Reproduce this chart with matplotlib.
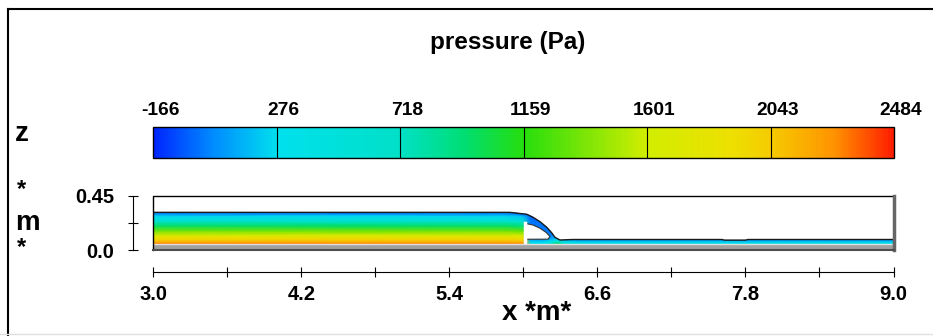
import numpy as np
import matplotlib.pyplot as plt
from matplotlib.colors import LinearSegmentedColormap, Normalize
from matplotlib.patches import Polygon
from matplotlib.lines import Line2D
from matplotlib.transforms import offset_copy
import matplotlib.cm as cm

plt.rcParams['font.family'] = ['Liberation Sans', 'DejaVu Sans']
plt.rcParams['font.weight'] = 'bold'

# pressure legend levels (Pa)
p_levels = [-166, 276, 718, 1159, 1601, 2043, 2484]

# axes ticks (m)
x_ticks = [3.0, 4.2, 5.4, 6.6, 7.8, 9.0]
x_minor = [3.6, 4.8, 6.0, 7.2, 8.4]
y_ticks = [0.0, 0.45]
y_labels = ['0.0', '0.45']
y_minor = [0.225]

# channel bed and weir plate
bed_top = 0.048
gate_x = 6.011
gate_top = 0.221

# free surface of the water
surf_x = [3.0, 5.891, 6.027, 6.078, 6.135, 6.189, 6.229, 6.256, 6.296, 6.40,
          7.61, 7.63, 7.80, 7.82, 9.0]
surf_y = [0.312, 0.312, 0.296, 0.271, 0.2345, 0.188, 0.143, 0.105, 0.083, 0.087,
          0.087, 0.082, 0.082, 0.087, 0.087]

# air cavity trapped under the nappe
cav_x = [6.013, 6.078, 6.135, 6.185, 6.215, 6.20, 6.03, 6.013]
cav_y = [0.221, 0.207, 0.180, 0.145, 0.112, 0.090, 0.089, 0.095]

# pressure samples (Pa) on a coarse grid, rows = heights, cols = x stations
grid_x = [3.0, 5.85, 6.0, 6.06, 6.15, 6.22, 6.27, 6.33, 6.45, 9.0]
grid_y = [0.048, 0.06, 0.075, 0.09, 0.12, 0.16, 0.20, 0.24, 0.28, 0.32]
pressure = [
    [2350, 2350, 2330, 350, 350, 600, 1150, 600, 420, 400],
    [2240, 2240, 2220, 300, 300, 500, 900, 450, 320, 300],
    [2110, 2110, 2090, 200, 200, 300, 500, 250, 180, 170],
    [1970, 1970, 1950, 100, 100, 150, 250, 100, 50, 40],
    [1700, 1700, 1680, 50, 40, 30, 20, 0, 0, 0],
    [1340, 1340, 1300, 30, 20, 10, 0, 0, 0, 0],
    [980, 980, 930, 10, 0, 0, 0, 0, 0, 0],
    [620, 620, 560, 0, -20, 0, 0, 0, 0, 0],
    [260, 260, 180, -40, -40, 0, 0, 0, 0, 0],
    [-100, -100, -120, -100, -60, 0, 0, 0, 0, 0],
]

colors = [
    (0.00, (0.00, 0.15, 1.00)),
    (0.08, (0.00, 0.55, 1.00)),
    (0.167, (0.00, 0.88, 0.93)),
    (0.333, (0.00, 0.88, 0.78)),
    (0.42, (0.00, 0.87, 0.45)),
    (0.50, (0.15, 0.87, 0.05)),
    (0.667, (0.82, 0.93, 0.00)),
    (0.78, (0.93, 0.88, 0.00)),
    (0.833, (0.96, 0.80, 0.00)),
    (0.92, (1.00, 0.58, 0.00)),
    (1.00, (1.00, 0.12, 0.00)),
]
cmap = LinearSegmentedColormap.from_list('press', colors)
norm = Normalize(vmin=p_levels[0], vmax=p_levels[-1])

W, H = 933, 336
fig = plt.figure(figsize=(W / 100, H / 100), dpi=100)

# outer frame
fig.add_artist(Line2D([8.3 / W, 8.3 / W], [0, 1 - 9.3 / H], transform=fig.transFigure, color='k', lw=1.5))
fig.add_artist(Line2D([8.3 / W, 1], [1 - 9.3 / H, 1 - 9.3 / H], transform=fig.transFigure, color='k', lw=1.5))
fig.add_artist(Line2D([0, 1], [1.7 / H, 1.7 / H], transform=fig.transFigure, color='0.88', lw=1))

fig.text(507.5 / W, 1 - 49 / H, 'pressure (Pa)', ha='center', va='baseline', fontsize=17.5)

# colour legend
cax = fig.add_axes([153.3 / W, 1 - 158.3 / H, 740.5 / W, 31.6 / H])
cb = fig.colorbar(cm.ScalarMappable(norm=norm, cmap=cmap), cax=cax, orientation='horizontal')
cb.set_ticks([])
cb.outline.set_linewidth(1)
cax.vlines(p_levels[1:-1], 0, 1, colors='k', lw=0.8)
lab_tr = offset_copy(cax.get_xaxis_transform(), fig=fig, x=7, y=11.7, units='dots')
for v in p_levels:
    cax.text(v, 1.0, str(v), transform=lab_tr, ha='center', va='baseline', fontsize=13.8)

# flow field
ax = fig.add_axes([153.3 / W, 1 - 250 / H, 740.2 / W, 54.3 / H])
ax.set_xlim(x_ticks[0], x_ticks[-1])
ax.set_ylim(y_ticks[0], y_ticks[-1])

mesh = ax.pcolormesh(grid_x, grid_y, np.array(pressure), cmap=cmap, norm=norm, shading='gouraud', zorder=1)
water = Polygon(list(zip(surf_x + [x_ticks[-1], x_ticks[0]], surf_y + [bed_top, bed_top])),
                closed=True, facecolor='none', edgecolor='none')
ax.add_patch(water)
mesh.set_clip_path(water)

ax.plot(surf_x, surf_y, color='0.1', lw=1, zorder=3)
ax.fill(cav_x, cav_y, facecolor='white', edgecolor='0.2', lw=0.8, zorder=3)
ax.plot([gate_x, gate_x], [bed_top, gate_top], color='white', lw=2.5, zorder=4)

ax.fill_between([x_ticks[0], x_ticks[-1]], 0, bed_top, color='#a0a0a0', lw=0, zorder=4)
ax.plot([x_ticks[0], x_ticks[-1]], [bed_top, bed_top], color='0.88', lw=1, zorder=4)

# domain outline
ax.plot([x_ticks[0], x_ticks[0], x_ticks[-1]], [0, 0.45, 0.45], color='k', lw=1, zorder=5, clip_on=False)
ax.plot([x_ticks[-1], x_ticks[-1]], [0, 0.45], color='0.4', lw=2.5, zorder=5, clip_on=False)
ax.plot([x_ticks[0], x_ticks[-1]], [0, 0], color='0.3', lw=1.5, zorder=5, clip_on=False)

for s in ['top', 'right']:
    ax.spines[s].set_visible(False)
ax.spines['left'].set_position(('outward', 14.4))
ax.spines['bottom'].set_position(('outward', 15.8))
ax.set_xticks(x_ticks)
ax.set_xticklabels([f'{v:.1f}' for v in x_ticks])
ax.set_xticks(x_minor, minor=True)
ax.set_yticks(y_ticks)
ax.set_yticklabels(y_labels)
ax.set_yticks(y_minor, minor=True)
ax.tick_params(which='both', direction='inout', length=7.2, width=0.8, labelsize=14.5)
ax.tick_params(axis='x', which='both', pad=5.8)
ax.tick_params(axis='y', which='both', pad=10)

fig.text(537 / W, 1 - 320 / H, 'x *m*', ha='center', va='baseline', fontsize=20)
fig.text(15 / W, 1 - 141 / H, 'z', ha='left', va='baseline', fontsize=20)
fig.text(17 / W, 1 - 196 / H, '*', ha='left', va='baseline', fontsize=17)
fig.text(15 / W, 1 - 230 / H, 'm', ha='left', va='baseline', fontsize=20)
fig.text(17 / W, 1 - 254 / H, '*', ha='left', va='baseline', fontsize=17)

fig.savefig('out.png', dpi=100)
